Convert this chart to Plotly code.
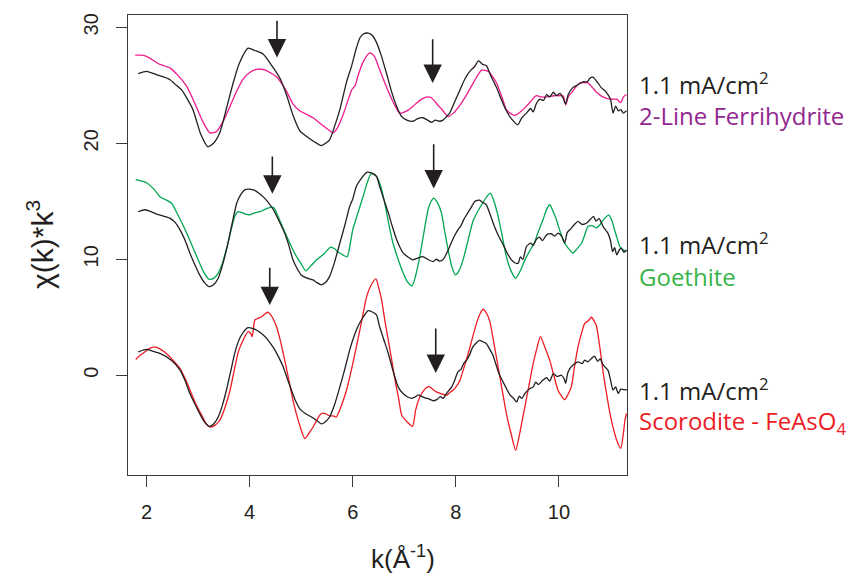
import plotly.graph_objects as go

# ---------------- data ----------------
k_ferri = [1.78,1.9,2.0,2.26,2.45,2.6,2.78,2.95,3.1,3.23,3.35,3.5,3.62,3.75,3.87,4.0,4.16,4.3,4.53,4.7,4.84,4.97,5.1,5.23,5.4,5.55,5.62,5.7,5.8,5.9,5.98,6.05,6.1,6.2,6.33,6.42,6.5,6.65,6.78,6.91,7.05,7.17,7.3,7.45,7.53,7.65,7.75,7.85,7.95,8.08,8.21,8.35,8.5,8.63,8.79,8.9,8.98,9.05,9.14,9.25,9.37,9.45,9.56,9.65,9.76,9.9,10.0,10.08,10.13,10.18,10.27,10.4,10.56,10.65,10.73,10.85,10.99,11.12,11.2,11.25,11.31]
chi_ferri = [27.6,27.6,27.5,26.8,26.5,25.9,24.9,23.3,21.8,20.9,21.0,22.0,23.2,24.5,25.5,26.1,26.4,26.3,25.7,24.6,23.4,22.8,22.5,22.2,21.6,21.1,20.9,21.3,22.3,23.6,24.6,25.0,25.8,27.0,27.8,27.5,26.6,24.9,23.6,22.6,22.8,23.2,23.7,24.0,23.9,23.3,22.8,22.3,22.6,23.3,24.2,25.3,26.3,26.2,25.2,23.9,22.9,22.6,22.4,22.7,23.2,23.6,24.1,24.0,24.0,24.1,24.1,24.1,23.3,24.0,24.5,25.2,25.2,24.8,24.4,24.0,23.8,23.8,23.5,24.0,24.2]

k_s1 = [1.84,2.0,2.2,2.45,2.55,2.68,2.9,3.05,3.19,3.3,3.42,3.55,3.68,3.8,3.97,4.1,4.26,4.46,4.6,4.72,4.85,4.97,5.1,5.23,5.39,5.55,5.65,5.75,5.88,5.98,6.07,6.14,6.2,6.3,6.38,6.46,6.55,6.65,6.75,6.85,6.95,7.05,7.17,7.25,7.36,7.45,7.53,7.6,7.68,7.75,7.82,7.88,7.98,8.08,8.17,8.27,8.36,8.44,8.52,8.59,8.68,8.79,8.88,8.98,9.08,9.2,9.28,9.37,9.45,9.5,9.56,9.63,9.7,9.76,9.82,9.89,9.95,10.02,10.08,10.13,10.18,10.27,10.35,10.47,10.55,10.6,10.66,10.74,10.82,10.9,10.95,11.0,11.05,11.1,11.15,11.2,11.25,11.31]
chi_s1 = [26.0,26.2,25.9,25.5,25.1,24.6,22.9,20.8,19.7,20.0,20.9,23.0,25.2,26.9,28.2,28.0,27.7,26.5,25.5,24.1,22.3,21.1,20.6,20.2,19.8,20.3,21.5,22.9,25.3,26.7,28.2,29.1,29.4,29.5,29.3,28.7,27.6,26.1,24.5,23.2,22.3,22.0,21.9,22.1,22.2,22.0,21.8,22.0,21.9,22.0,22.3,22.6,23.6,24.6,25.5,26.2,26.6,27.1,26.8,26.7,25.8,24.8,23.8,22.8,22.1,21.6,22.2,22.6,23.0,22.7,23.4,23.8,23.7,24.2,24.0,24.4,24.1,24.3,23.9,23.4,24.2,24.8,25.0,25.3,25.3,25.6,25.7,25.3,24.8,24.5,24.2,23.8,22.6,23.2,22.8,22.9,22.6,22.8]

k_goe = [1.79,2.0,2.15,2.26,2.48,2.6,2.78,2.9,3.03,3.12,3.21,3.3,3.39,3.48,3.58,3.65,3.71,3.78,3.84,3.92,4.0,4.1,4.2,4.3,4.42,4.48,4.52,4.6,4.72,4.82,4.91,5.0,5.09,5.2,5.3,5.45,5.57,5.65,5.72,5.8,5.89,5.95,6.0,6.1,6.2,6.28,6.36,6.46,6.55,6.62,6.7,6.78,6.88,6.98,7.07,7.15,7.22,7.3,7.38,7.46,7.52,7.57,7.64,7.72,7.78,7.85,7.92,7.99,8.06,8.14,8.24,8.33,8.42,8.5,8.6,8.67,8.74,8.82,8.9,8.98,9.07,9.16,9.25,9.34,9.43,9.53,9.6,9.69,9.76,9.82,9.88,9.95,10.03,10.11,10.19,10.27,10.35,10.44,10.5,10.56,10.64,10.73,10.8,10.86,10.97,11.03,11.08,11.13,11.18,11.25,11.31]
chi_goe = [16.86,16.6,16.0,15.4,14.85,13.9,12.25,11.0,9.66,8.8,8.28,8.35,8.8,9.8,11.4,12.7,13.7,14.1,14.04,13.9,13.84,14.0,14.1,14.3,14.5,14.4,14.0,13.2,11.96,11.0,10.23,9.6,9.0,9.5,9.95,10.5,11.05,10.9,10.6,10.4,10.2,11.3,12.54,14.0,15.4,16.6,17.4,17.15,16.2,14.85,13.0,11.4,10.0,8.8,8.0,7.7,8.6,10.23,12.3,14.27,15.0,15.28,14.9,14.0,12.5,10.8,9.4,8.65,9.0,9.95,11.7,13.26,14.1,14.7,15.4,15.7,15.0,13.7,12.0,10.23,9.0,8.36,9.0,9.95,10.7,11.5,12.4,13.4,14.3,14.7,14.2,13.4,12.3,11.4,10.9,10.53,10.9,11.4,12.1,12.8,12.9,12.7,13.0,13.4,13.8,13.3,12.5,11.8,11.1,10.8,10.67]

k_s2 = [1.84,1.97,2.2,2.45,2.55,2.65,2.75,2.84,2.95,3.03,3.12,3.21,3.3,3.39,3.48,3.58,3.67,3.75,3.83,3.91,4.0,4.1,4.18,4.26,4.36,4.46,4.57,4.68,4.76,4.84,4.92,5.0,5.1,5.23,5.3,5.39,5.47,5.55,5.65,5.75,5.85,5.94,6.0,6.07,6.17,6.27,6.36,6.46,6.52,6.6,6.69,6.77,6.85,6.92,6.98,7.07,7.16,7.26,7.36,7.45,7.56,7.62,7.68,7.75,7.82,7.88,7.96,8.04,8.1,8.15,8.21,8.3,8.37,8.46,8.52,8.59,8.67,8.75,8.83,8.92,9.0,9.08,9.14,9.21,9.25,9.3,9.37,9.45,9.5,9.56,9.62,9.68,9.76,9.85,9.92,9.98,10.05,10.11,10.16,10.21,10.3,10.37,10.45,10.53,10.6,10.67,10.72,10.78,10.86,10.95,11.0,11.04,11.08,11.12,11.17,11.21,11.26,11.31]
chi_s2 = [14.1,14.27,13.9,13.55,13.2,12.54,11.6,10.53,9.4,8.65,8.0,7.64,7.8,8.36,9.6,11.4,13.3,14.85,15.6,16.0,16.05,15.94,15.7,15.4,14.9,14.27,13.3,12.25,11.2,9.95,9.2,8.65,8.4,8.22,8.0,7.8,8.0,8.5,9.8,11.4,13.0,14.55,15.2,16.3,17.0,17.5,17.45,17.15,16.3,15.2,14.0,12.8,11.7,11.0,10.53,10.2,9.95,10.1,10.23,10.0,9.8,10.0,9.85,9.95,10.5,11.1,11.9,12.54,12.9,13.4,13.84,14.5,15.0,15.1,14.9,14.7,13.8,12.8,12.0,11.24,10.5,9.95,9.7,9.66,10.2,10.0,11.1,11.4,11.2,11.7,11.9,11.6,12.1,12.2,12.0,12.25,12.0,11.4,12.3,12.54,13.0,13.26,13.0,13.1,13.4,13.7,13.3,13.5,12.8,12.25,11.6,10.67,11.0,10.38,10.8,10.96,10.6,10.8]

k_scor = [1.79,1.87,1.97,2.05,2.16,2.25,2.35,2.45,2.55,2.65,2.76,2.87,2.97,3.07,3.16,3.24,3.33,3.42,3.52,3.62,3.7,3.78,3.87,3.97,4.02,4.05,4.08,4.1,4.16,4.23,4.3,4.36,4.44,4.52,4.6,4.68,4.76,4.84,4.95,5.07,5.15,5.23,5.31,5.39,5.47,5.55,5.62,5.68,5.78,5.88,5.98,6.07,6.17,6.27,6.36,6.45,6.5,6.56,6.62,6.69,6.76,6.82,6.89,6.95,7.05,7.16,7.22,7.3,7.38,7.45,7.49,7.55,7.62,7.72,7.82,7.88,7.95,8.02,8.08,8.16,8.24,8.32,8.4,8.47,8.53,8.6,8.66,8.74,8.82,8.9,8.98,9.07,9.16,9.23,9.3,9.4,9.5,9.57,9.64,9.72,9.82,9.9,9.98,10.05,10.11,10.17,10.24,10.3,10.37,10.43,10.5,10.57,10.63,10.68,10.73,10.8,10.86,10.92,10.99,11.05,11.12,11.2,11.25,11.28,11.31]
chi_scor = [1.36,1.7,2.02,2.3,2.45,2.3,2.0,1.59,1.1,0.58,-0.4,-1.57,-2.6,-3.45,-4.2,-4.46,-4.3,-3.88,-2.8,-1.27,0.4,2.02,3.0,3.76,3.6,3.33,4.3,4.76,4.9,5.05,5.3,5.43,5.0,4.2,2.9,1.3,-0.4,-2.15,-4.0,-5.46,-5.0,-4.46,-3.8,-3.3,-3.3,-3.5,-3.5,-3.6,-2.6,-1.27,0.6,2.45,4.6,6.78,7.8,8.3,7.6,6.5,4.8,3.0,1.2,-0.42,-2.0,-3.45,-4.0,-4.4,-3.0,-1.87,-1.3,-1.0,-1.0,-1.2,-1.43,-1.6,-1.72,-1.5,-1.27,-0.9,-0.42,0.7,1.88,3.2,4.47,5.3,5.69,5.3,4.62,2.7,0.73,-1.3,-3.3,-5.0,-6.47,-5.2,-3.6,-1.3,1.0,2.3,3.33,2.5,1.3,0.0,-1.27,-1.8,-2.1,-1.7,-1.0,0.7,2.45,3.5,4.47,4.7,5.0,4.7,4.2,2.2,0.14,-1.5,-3.3,-4.5,-5.6,-6.3,-5.0,-3.88,-3.3]

k_s3 = [1.84,2.0,2.1,2.26,2.48,2.65,2.75,2.84,2.94,3.03,3.12,3.21,3.3,3.39,3.47,3.55,3.63,3.71,3.78,3.84,3.92,3.97,4.05,4.13,4.23,4.33,4.41,4.49,4.57,4.65,4.73,4.81,4.89,4.97,5.08,5.2,5.3,5.39,5.47,5.55,5.65,5.75,5.85,5.94,6.02,6.1,6.2,6.3,6.38,6.46,6.52,6.6,6.69,6.78,6.88,6.98,7.06,7.14,7.2,7.27,7.33,7.4,7.48,7.56,7.63,7.7,7.75,7.83,7.92,7.98,8.04,8.1,8.15,8.21,8.27,8.33,8.4,8.46,8.52,8.59,8.65,8.72,8.78,8.85,8.92,8.98,9.05,9.12,9.18,9.23,9.28,9.34,9.42,9.5,9.55,9.6,9.69,9.76,9.82,9.89,9.96,10.05,10.1,10.13,10.17,10.21,10.28,10.37,10.45,10.5,10.56,10.62,10.69,10.75,10.8,10.86,10.95,11.0,11.05,11.1,11.15,11.2,11.25,11.32]
chi_s3 = [2.02,2.23,2.1,1.88,1.3,0.44,-0.5,-1.57,-2.5,-3.3,-4.0,-4.4,-4.2,-3.6,-2.6,-1.27,0.3,1.88,2.9,3.47,3.95,4.1,4.05,3.9,3.6,3.18,2.7,2.17,1.5,0.73,-0.3,-1.27,-2.2,-2.87,-3.3,-3.6,-3.9,-4.2,-4.0,-3.6,-2.5,-1.0,0.6,2.17,3.3,4.2,5.0,5.57,5.45,5.2,4.2,3.1,1.88,0.4,-1.0,-1.6,-1.85,-2.0,-1.9,-1.7,-1.8,-1.95,-2.05,-2.2,-2.1,-1.85,-2.0,-1.5,-1.0,-0.4,0.3,0.5,1.0,1.3,1.8,2.45,2.8,3.0,2.9,2.74,2.3,1.73,0.9,0.0,-0.6,-1.14,-1.7,-2.0,-2.3,-1.8,-2.0,-1.57,-1.2,-1.0,-0.6,-0.8,-0.42,-0.2,-0.5,0.14,-0.1,0.0,-0.3,-0.7,0.2,0.58,0.9,1.16,1.0,1.3,1.16,1.4,1.65,1.2,1.4,0.87,0.44,-0.4,-1.27,-1.0,-1.57,-1.2,-1.23,-1.27]

x_ticks = [2, 4, 6, 8, 10]
y_ticks = [0, 10, 20, 30]

# arrows: (tip k, tip chi, tail k, tail chi)
arrows = [
    (4.53, 27.4, 4.53, 30.7),
    (7.55, 25.2, 7.55, 29.1),
    (4.44, 15.65, 4.44, 19.0),
    (7.57, 16.1, 7.57, 20.05),
    (4.39, 6.05, 4.39, 9.4),
    (7.61, 0.2, 7.61, 4.15),
]

labels_top = ["1.1 mA/cm<sup>2</sup>", "1.1 mA/cm<sup>2</sup>", "1.1 mA/cm<sup>2</sup>"]
labels_ref = ["2-Line Ferrihydrite", "Goethite", "Scorodite - FeAsO<sub>4</sub>"]

# ---------------- style ----------------
BLACK = "#231f20"
MAGENTA = "#ec1c8c"
GREEN = "#00a651"
RED = "#ed1c24"
LBL_COLORS = ["#92278f", "#39b54a", "#ed1c24"]

W, H = 856, 580
L, R, T, B = 128, 627, 15, 475
XR = [1.64, 11.32]
YR = [-8.6, 31.06]


def px_x(p):
    return (p - L) / (R - L)


def px_y(p):
    return (B - p) / (B - T)


fig = go.Figure()
series = [
    (k_ferri, chi_ferri, MAGENTA),
    (k_s1, chi_s1, BLACK),
    (k_goe, chi_goe, GREEN),
    (k_s2, chi_s2, BLACK),
    (k_scor, chi_scor, RED),
    (k_s3, chi_s3, BLACK),
]
for kx, cy, col in series:
    fig.add_trace(go.Scatter(x=kx, y=cy, mode="lines",
                             line=dict(color=col, width=1.3, shape="spline", smoothing=0.6),
                             showlegend=False, hoverinfo="skip"))

ann = []
for tx, ty, sx, sy in arrows:
    ann.append(dict(x=tx, y=ty, ax=sx, ay=sy, xref="x", yref="y", axref="x", ayref="y",
                    showarrow=True, arrowhead=2, arrowsize=2.3, arrowwidth=1.6,
                    arrowcolor=BLACK, text=""))

top_centers = [83, 243, 389]
ref_centers = [116, 276, 422]
for i in range(3):
    ann.append(dict(x=px_x(637), y=px_y(top_centers[i]), xref="paper", yref="paper",
                    xanchor="left", yanchor="middle", showarrow=False,
                    text=labels_top[i], font=dict(family="Open Sans", size=24, color=BLACK)))
    ann.append(dict(x=px_x(637), y=px_y(ref_centers[i]), xref="paper", yref="paper",
                    xanchor="left", yanchor="middle", showarrow=False,
                    text=labels_ref[i], font=dict(family="Open Sans", size=24, color=LBL_COLORS[i])))

ann.append(dict(x=px_x(403), y=px_y(557), xref="paper", yref="paper",
                xanchor="center", yanchor="middle", showarrow=False,
                text="k(Å<sup>-1</sup>)", font=dict(family="Liberation Sans", size=26, color=BLACK)))
ann.append(dict(x=px_x(40), y=px_y(245), xref="paper", yref="paper",
                xanchor="center", yanchor="middle", showarrow=False, textangle=-90,
                text="χ(k)*k<sup>3</sup>", font=dict(family="Liberation Sans", size=30, color=BLACK)))

axis_common = dict(showgrid=False, zeroline=False, showline=True, mirror=True,
                   linecolor="#3a3a3a", linewidth=1, ticks="outside", ticklen=11,
                   tickcolor="#3a3a3a", tickwidth=1,
                   tickfont=dict(family="Liberation Sans", size=20, color=BLACK))

fig.update_layout(
    width=W, height=H,
    margin=dict(l=L, r=W - R, t=T, b=H - B),
    paper_bgcolor="white", plot_bgcolor="white",
    xaxis=dict(range=XR, tickvals=x_ticks, ticktext=[str(v) for v in x_ticks],
               ticklabelstandoff=8, **axis_common),
    yaxis=dict(range=YR, tickvals=y_ticks, ticktext=[str(v) for v in y_ticks], tickangle=-90,
               ticklabelstandoff=10, **axis_common),
    annotations=ann,
)

fig.write_html("out.html", config={"displayModeBar": False},
               post_script="document.body.style.margin='0';document.body.style.overflow='hidden';")
